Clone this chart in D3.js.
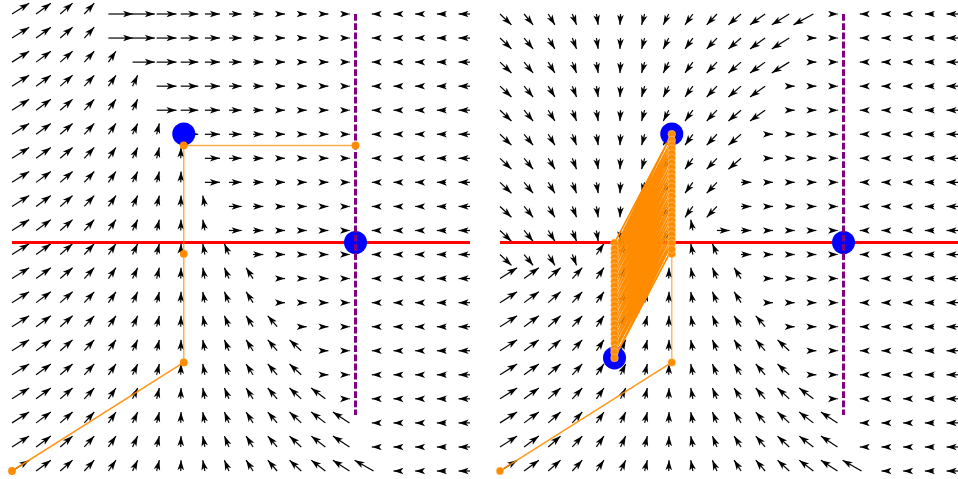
<!DOCTYPE html>
<html>
<head>
<meta charset="utf-8">
<script src="https://cdn.jsdelivr.net/npm/d3@7"></script>
<style>
  html, body { margin: 0; padding: 0; background: #fff; }
  svg { display: block; }
</style>
</head>
<body>
<svg id="chart" width="958" height="479"></svg>
<script>
// Sample grid of the phase plane (unit square), columns left to right, rows top to bottom
const gridX = [0, 0.0526, 0.1053, 0.1579, 0.2105, 0.2632, 0.3158, 0.3684, 0.4211, 0.4737,
               0.5263, 0.5789, 0.6316, 0.6842, 0.7368, 0.7895, 0.8421, 0.8947, 0.9474, 1];
const gridY = [1, 0.9474, 0.8947, 0.8421, 0.7895, 0.7368, 0.6842, 0.6316, 0.5789, 0.5263,
               0.4737, 0.4211, 0.3684, 0.3158, 0.2632, 0.2105, 0.1579, 0.1053, 0.0526, 0];

// Which branch of the map acts at each grid node (one string per row)
const leftRegions = [
  "AAAABBBBBBBBBBBBBBBB",
  "AAAABBBBBBBBBBBBBBBB",
  "AAAAABBBBBBBBBBBBBBB",
  "AAAAAABBBBBBBBBBBBBB",
  "AAAAAABBBBBBBBBBBBBB",
  "AAAAAAABBBBBBBBBBBBB",
  "AAAAAAAABBBBBBBBBBBB",
  "AAAAAAAABBBBBBBBBBBB",
  "AAAAAAAAABBBBBBBBBBB",
  "AAAAAAAAABBBBBBBBBBB",
  "AAAAAAAAAABBBBBBBBBB",
  "AAAAAAAAAAABBBBBBBBB",
  "AAAAAAAAAAABBBBBBBBB",
  "AAAAAAAAAAAABBBBBBBB",
  "AAAAAAAAAAAAABBBBBBB",
  "AAAAAAAAAAAAABBBBBBB",
  "AAAAAAAAAAAAAABBBBBB",
  "AAAAAAAAAAAAAAABBBBB",
  "AAAAAAAAAAAAAAABBBBB",
  "AAAAAAAAAAAAAAAABBBB"
];
const rightRegions = [
  "DDDDDDDDDDDDDDBBBBBB",
  "DDDDDDDDDDDDDBBBBBBB",
  "DDDDDDDDDDDDDBBBBBBB",
  "DDDDDDDDDDDDBBBBBBBB",
  "DDDDDDDDDDDDBBBBBBBB",
  "DDDDDDDDDDDBBBBBBBBB",
  "DDDDDDDDDDDBBBBBBBBB",
  "DDDDDDDDDDBBBBBBBBBB",
  "DDDDDDDDDDBBBBBBBBBB",
  "DDDDDDDDABBBBBBBBBBB",
  "DDDDAAAAAABBBBBBBBBB",
  "AAAAAAAAAAABBBBBBBBB",
  "AAAAAAAAAAABBBBBBBBB",
  "AAAAAAAAAAAABBBBBBBB",
  "AAAAAAAAAAAAABBBBBBB",
  "AAAAAAAAAAAAABBBBBBB",
  "AAAAAAAAAAAAAABBBBBB",
  "AAAAAAAAAAAAAAABBBBB",
  "AAAAAAAAAAAAAAABBBBB",
  "AAAAAAAAAAAAAAAABBBB"
];

// Horizontal displacement of each branch, per grid column
const shiftA = [0.375, 0.322, 0.270, 0.217, 0.164, 0.112, 0.059, 0.007, -0.046, -0.099,
                -0.151, -0.204, -0.257, -0.309, -0.362, -0.414, -0.467, -0.520, -0.572, -0.625];
const shiftB = [0.750, 0.697, 0.645, 0.592, 0.539, 0.487, 0.434, 0.382, 0.329, 0.276,
                0.224, 0.171, 0.118, 0.066, 0.013, -0.039, -0.092, -0.145, -0.197, -0.250];
const shiftD = [0.250, 0.197, 0.145, 0.092, 0.039, -0.013, -0.066, -0.118, -0.171, -0.224,
                -0.276, -0.329, -0.382, -0.434, -0.487, -0.539, -0.592, -0.645, -0.697, -0.750];
// Vertical displacement of each branch
const stepY = { A: 0.2375, B: 0, D: -0.2375 };
const shiftX = { A: shiftA, B: shiftB, D: shiftD };
const arrowScale = 0.1;

// Invariant sets
const boundaryY = 0.5;                 // red line
const fixedLineX = 0.75;               // purple dashed line of fixed points
const fixedLineY = [0.1225, 1];
const leftFixed = [[0.375, 0.7375], [0.75, 0.5]];
const rightFixed = [[0.375, 0.7375], [0.75, 0.5], [0.25, 0.2475]];

// Orbits
const leftOrbitX = [0, 0.375, 0.375, 0.375, 0.75];
const leftOrbitY = [0, 0.2375, 0.475, 0.7125, 0.7125];
const rightStartX = [0, 0.375, 0.375];
const rightStartY = [0, 0.2375, 0.475];
// alternating visits to the two columns x = 0.25 and x = 0.375
const cycleLowY  = [0.499, 0.486, 0.476, 0.467, 0.457, 0.447, 0.436, 0.426, 0.415, 0.405, 0.394, 0.384,
                    0.373, 0.363, 0.352, 0.342, 0.331, 0.321, 0.310, 0.300, 0.289, 0.279, 0.268, 0.260, 0.2475];
const cycleHighY = [0.737, 0.724, 0.714, 0.705, 0.695, 0.685, 0.674, 0.664, 0.653, 0.643, 0.632, 0.622,
                    0.611, 0.601, 0.590, 0.580, 0.569, 0.559, 0.548, 0.538, 0.527, 0.517, 0.506, 0.498, 0.485];
const cycleLowX = 0.25, cycleHighX = 0.375;

const svg = d3.select("#chart");
const y = d3.scaleLinear().domain([0, 1]).range([471, 14]);

const ORANGE = "#ff8c00";

function drawPanel(x0, regions, fixedPts, orbitFn) {
  const x = d3.scaleLinear().domain([0, 1]).range([x0, x0 + 458]);
  const g = svg.append("g");

  // vector field
  const arrows = [];
  regions.forEach((row, j) => {
    row.split("").forEach((r, i) => {
      const u = shiftX[r][i], v = stepY[r];
      arrows.push({
        x1: x(gridX[i]), y1: y(gridY[j]),
        x2: x(gridX[i] + arrowScale * u), y2: y(gridY[j] + arrowScale * v)
      });
    });
  });
  const ag = g.append("g");
  ag.selectAll("line").data(arrows).join("line")
    .attr("x1", d => d.x1).attr("y1", d => d.y1)
    .attr("x2", d => d.x2).attr("y2", d => d.y2)
    .attr("stroke", "#000").attr("stroke-width", 1.2);
  ag.selectAll("path").data(arrows).join("path")
    .attr("d", "M0,0L-10,-3.3L-7.5,0L-10,3.3Z")
    .attr("fill", "#000")
    .attr("transform", d => {
      const a = Math.atan2(d.y2 - d.y1, d.x2 - d.x1) * 180 / Math.PI;
      return `translate(${d.x2},${d.y2}) rotate(${a})`;
    });

  // boundary line
  g.append("line")
    .attr("x1", x(0)).attr("x2", x(1))
    .attr("y1", y(boundaryY)).attr("y2", y(boundaryY))
    .attr("stroke", "#ff0000").attr("stroke-width", 3);

  // fixed points
  g.selectAll("circle.fp").data(fixedPts).join("circle")
    .attr("class", "fp")
    .attr("cx", d => x(d[0])).attr("cy", d => y(d[1]))
    .attr("r", 11.5).attr("fill", "#0000ff");

  // line of fixed points
  g.append("line")
    .attr("x1", x(fixedLineX)).attr("x2", x(fixedLineX))
    .attr("y1", y(fixedLineY[1])).attr("y2", y(fixedLineY[0]))
    .attr("stroke", "#800080").attr("stroke-width", 3)
    .attr("stroke-dasharray", "6.8,2.4");

  orbitFn(g, x);
}

function segments(g, pts, firstOpacity, restOpacity) {
  for (let i = 0; i < pts.length - 1; i++) {
    g.append("line")
      .attr("x1", pts[i][0]).attr("y1", pts[i][1])
      .attr("x2", pts[i + 1][0]).attr("y2", pts[i + 1][1])
      .attr("stroke", ORANGE).attr("stroke-width", 1.5)
      .attr("stroke-opacity", i === 0 ? firstOpacity : restOpacity);
  }
}

function leftOrbit(g, x) {
  const pts = leftOrbitX.map((v, i) => [x(v), y(leftOrbitY[i])]);
  segments(g, pts, 0.9, 0.7);
  g.selectAll("circle.od").data(pts).join("circle").attr("class", "od")
    .attr("cx", d => d[0]).attr("cy", d => d[1]).attr("r", 3.9).attr("fill", ORANGE);
}

function rightOrbit(g, x) {
  const start = rightStartX.map((v, i) => [x(v), y(rightStartY[i])]);
  const cyc = [];
  cycleLowY.forEach((v, k) => {
    cyc.push([x(cycleLowX), y(v)]);
    cyc.push([x(cycleHighX), y(cycleHighY[k])]);
  });
  segments(g, start, 0.9, 0.6);
  // dense two-column orbit
  g.append("path")
    .attr("d", d3.line()(cyc))
    .attr("fill", "none").attr("stroke", ORANGE).attr("stroke-width", 1.7)
    .attr("stroke-linejoin", "round");
  g.selectAll("circle.od").data(start.concat(cyc)).join("circle").attr("class", "od")
    .attr("cx", d => d[0]).attr("cy", d => d[1]).attr("r", 3.9).attr("fill", ORANGE)
    .attr("stroke", "#fff").attr("stroke-width", 0.3);
}

drawPanel(12, leftRegions, leftFixed, leftOrbit);
drawPanel(500, rightRegions, rightFixed, rightOrbit);
</script>
</body>
</html>
